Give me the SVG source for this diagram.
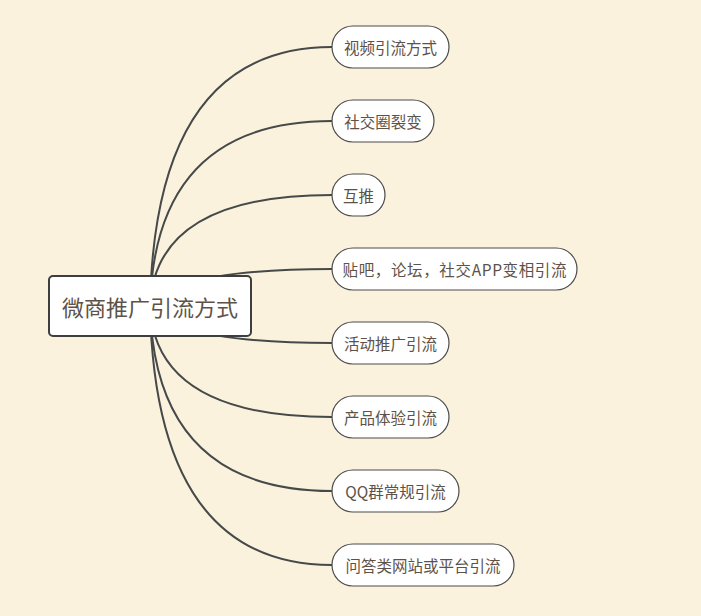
<svg xmlns="http://www.w3.org/2000/svg" width="701" height="616" viewBox="0 0 701 616">
<style>
.bg{fill:#FAF2DC}
.conn{fill:none;stroke:#45494A;stroke-width:2}
.child rect{fill:#FFFFFF;stroke:#4A4A4A;stroke-width:1.2}
.child text{font-family:"Noto Sans CJK SC","Liberation Sans",sans-serif;font-size:15.5px;fill:#5E5248;text-anchor:middle;dominant-baseline:central}
.root rect{fill:#FFFFFF;stroke:#3E3E3E;stroke-width:2}
.root text{font-family:"Noto Sans CJK SC","Liberation Sans",sans-serif;font-size:22px;fill:#5E5248;text-anchor:middle;dominant-baseline:central}
</style>
<rect class="bg" x="0" y="0" width="701" height="616"/>
<g id="connectors">
<path class="conn" d="M150,306 Q155,47 332,47"/>
<path class="conn" d="M150,306 Q155,121 332,121"/>
<path class="conn" d="M150,306 Q155,195 332,195"/>
<path class="conn" d="M150,306 Q175,269 332,269"/>
<path class="conn" d="M150,306 Q175,343 332,343"/>
<path class="conn" d="M150,306 Q155,417 332,417"/>
<path class="conn" d="M150,306 Q155,491 332,491"/>
<path class="conn" d="M150,306 Q155,565 332,565"/>
</g>
<g id="root" class="root">
<rect x="49" y="276" width="202" height="60" rx="4"/>
<text x="150" y="306">微商推广引流方式</text>
</g>
<g id="n1" class="child"><rect x="332" y="26" width="117" height="42" rx="21"/><text x="390.5" y="47">视频引流方式</text></g>
<g id="n2" class="child"><rect x="332" y="100" width="102" height="42" rx="21"/><text x="383" y="121">社交圈裂变</text></g>
<g id="n3" class="child"><rect x="332" y="174" width="53" height="42" rx="21"/><text x="358.5" y="195">互推</text></g>
<g id="n4" class="child"><rect x="332" y="248" width="245" height="42" rx="21"/><text x="454.5" y="269" textLength="224">贴吧，论坛，社交APP变相引流</text></g>
<g id="n5" class="child"><rect x="332" y="322" width="117" height="42" rx="21"/><text x="390.5" y="343">活动推广引流</text></g>
<g id="n6" class="child"><rect x="332" y="396" width="117" height="42" rx="21"/><text x="390.5" y="417">产品体验引流</text></g>
<g id="n7" class="child"><rect x="332" y="470" width="127" height="42" rx="21"/><text x="395.5" y="491">QQ群常规引流</text></g>
<g id="n8" class="child"><rect x="332" y="544" width="182" height="42" rx="21"/><text x="423" y="565">问答类网站或平台引流</text></g>
</svg>
